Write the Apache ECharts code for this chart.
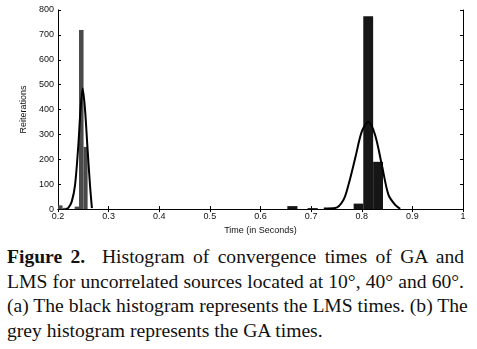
<!DOCTYPE html>
<html>
<head>
<meta charset="utf-8">
<script src="https://cdn.jsdelivr.net/npm/echarts@6/dist/echarts.min.js"></script>
<style>
  html, body { margin: 0; padding: 0; background: #fff; }
  #wrap { position: relative; width: 477px; height: 349px; overflow: hidden; }
  #chart { position: absolute; left: 0; top: 0; width: 477px; height: 240px; }
  #caption {
    position: absolute; left: 7px; top: 245px; width: 457px;
    font-family: "Liberation Serif", "Times New Roman", serif;
    font-size: 19.6px; line-height: 24.5px; color: #111;
  }
  #caption .j { text-align: justify; text-align-last: justify; white-space: nowrap; }
</style>
</head>
<body>
<div id="wrap">
  <div id="chart"></div>
  <div id="caption">
    <div class="j"><b>Figure 2.</b>&nbsp; Histogram of convergence times of GA and</div>
    <div class="j">LMS for uncorrelated sources located at 10°, 40° and 60°.</div>
    <div class="j">(a) The black histogram represents the LMS times. (b) The</div>
    <div>grey histogram represents the GA times.</div>
  </div>
</div>
<script>
// histogram bins: [start, end, count]
const gaBins = [
  [0.200, 0.209, 15],
  [0.209, 0.218, 5],
  [0.233, 0.2415, 10],
  [0.2415, 0.2505, 720],
  [0.2505, 0.2585, 250]
];
const lmsBins = [
  [0.653, 0.673, 12],
  [0.693, 0.713, 4],
  [0.784, 0.803, 22],
  [0.803, 0.8225, 775],
  [0.8225, 0.842, 190]
];

// fitted curves
const gaCurveX = [0.215, 0.2204, 0.2271, 0.2336, 0.2401, 0.2445, 0.2488, 0.2534, 0.2579, 0.2632, 0.267];
const gaCurveY = [0, 5, 30, 95, 255, 400, 485, 400, 257, 96, 4];
const lmsCurveX = [0.725, 0.7474, 0.7638, 0.7737, 0.787, 0.8002, 0.8132, 0.8265, 0.8397, 0.8528, 0.866, 0.8759];
const lmsCurveY = [2, 4, 37, 97, 204, 312, 351, 297, 177, 57, 17, 1];

const xTicks = [0.2, 0.3, 0.4, 0.5, 0.6, 0.7, 0.8, 0.9, 1];
const yTicks = [0, 100, 200, 300, 400, 500, 600, 700, 800];

const chart = echarts.init(document.getElementById("chart"), null, { renderer: "canvas" });

const labelFont = {
  fontSize: 9,
  fontFamily: "Liberation Sans, Arial, sans-serif",
  color: "#111",
};

function histItem(color) {
  return function (params, api) {
    const a = api.coord([api.value(0), api.value(2)]);
    const b = api.coord([api.value(1), 0]);
    return {
      type: "rect",
      shape: { x: a[0], y: a[1], width: b[0] - a[0], height: b[1] - a[1] },
      style: { fill: color },
    };
  };
}

const option = {
  animation: false,
  grid: { left: 58, right: 14, top: 10, bottom: 29 },
  xAxis: [
    {
      type: "value",
      min: xTicks[0],
      max: xTicks[xTicks.length - 1],
      interval: 0.1,
      name: "Time (in Seconds)",
      nameLocation: "middle",
      nameGap: 13,
      nameTextStyle: labelFont,
      axisLine: { lineStyle: { color: "#000", width: 1 } },
      axisTick: { inside: true, length: 3, lineStyle: { color: "#000" } },
      axisLabel: Object.assign({ margin: 3, formatter: (v) => String(+v.toFixed(1)) }, labelFont),
      splitLine: { show: false },
    },
    {
      type: "value",
      position: "top",
      min: xTicks[0],
      max: xTicks[xTicks.length - 1],
      interval: 0.1,
      axisLine: { lineStyle: { color: "#000", width: 1 } },
      axisTick: { inside: true, length: 3, lineStyle: { color: "#000" } },
      axisLabel: { show: false },
      splitLine: { show: false },
    },
  ],
  yAxis: [
    {
      type: "value",
      min: yTicks[0],
      max: yTicks[yTicks.length - 1],
      interval: 100,
      name: "Reiterations",
      nameLocation: "middle",
      nameGap: 28,
      nameTextStyle: labelFont,
      axisLine: { show: true, lineStyle: { color: "#000", width: 1 } },
      axisTick: { show: true, inside: true, length: 3, lineStyle: { color: "#000" } },
      axisLabel: Object.assign({ margin: 4 }, labelFont),
      splitLine: { show: false },
    },
    {
      type: "value",
      position: "right",
      min: yTicks[0],
      max: yTicks[yTicks.length - 1],
      interval: 100,
      axisLine: { show: true, lineStyle: { color: "#000", width: 1 } },
      axisTick: { show: true, inside: true, length: 3, lineStyle: { color: "#000" } },
      axisLabel: { show: false },
      splitLine: { show: false },
    },
  ],
  series: [
    {
      type: "custom",
      name: "GA",
      renderItem: histItem("#4a4a4a"),
      encode: { x: [0, 1], y: 2 },
      data: gaBins,
      z: 2,
    },
    {
      type: "custom",
      name: "LMS",
      renderItem: histItem("#161616"),
      encode: { x: [0, 1], y: 2 },
      data: lmsBins,
      z: 2,
    },
    {
      type: "line",
      name: "GA fit",
      data: gaCurveX.map((x, i) => [x, gaCurveY[i]]),
      smooth: 0.3,
      showSymbol: false,
      lineStyle: { color: "#000", width: 2 },
      z: 3,
    },
    {
      type: "line",
      name: "LMS fit",
      data: lmsCurveX.map((x, i) => [x, lmsCurveY[i]]),
      smooth: 0.3,
      showSymbol: false,
      lineStyle: { color: "#000", width: 2 },
      z: 3,
    },
  ],
};

chart.setOption(option);
</script>
</body>
</html>
